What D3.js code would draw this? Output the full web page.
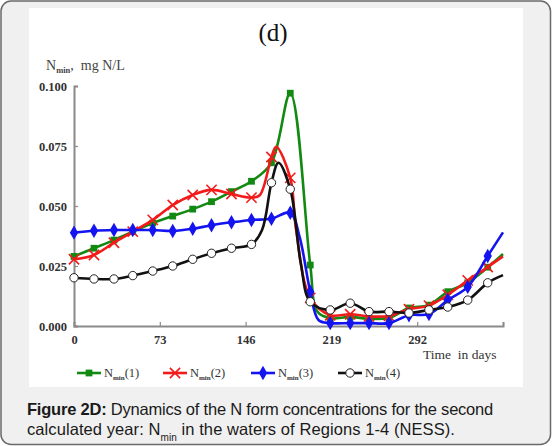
<!DOCTYPE html>
<html lang="en">
<head>
<meta charset="UTF-8">
<title>Figure 2D</title>
<script src="https://d3js.org/d3.v7.min.js"></script>
<style>
  html, body { margin: 0; padding: 0; background: #fff; }
  svg { display: block; }
</style>
</head>
<body>
<div id="chart-container"></div>
<script>
// marker days (every ~16.75 days) and values
const days = [0, 17, 34, 50, 67, 84, 101, 117, 134, 151, 168, 184, 201, 218, 235, 251, 268, 285, 302, 318, 335, 352];

const n1 = [0.0290, 0.0324, 0.0358, 0.0393, 0.0429, 0.0458, 0.0487, 0.0518, 0.0560, 0.0603, 0.0680, 0.0970,
            0.0254, 0.0032, 0.0038, 0.0030, 0.0034, 0.0075, 0.0087, 0.0143, 0.0180, 0.0245];
const n2 = [0.0278, 0.0296, 0.0347, 0.0393, 0.0442, 0.0504, 0.0546, 0.0567, 0.0550, 0.0535, 0.0704, 0.0617,
            0.0117, 0.0045, 0.0049, 0.0040, 0.0042, 0.0070, 0.0085, 0.0130, 0.0190, 0.0246];
const n3 = [0.0389, 0.0397, 0.0400, 0.0400, 0.0400, 0.0396, 0.0405, 0.0420, 0.0432, 0.0442, 0.0447, 0.0472,
            0.0143, 0.0012, 0.0012, 0.0012, 0.0012, 0.0045, 0.0050, 0.0108, 0.0163, 0.0292];
const n4 = [0.0201, 0.0196, 0.0196, 0.0210, 0.0229, 0.0250, 0.0278, 0.0303, 0.0324, 0.0340, 0.0597, 0.0570,
            0.0101, 0.0067, 0.0095, 0.0060, 0.0060, 0.0054, 0.0067, 0.0079, 0.0108, 0.0180];

// extra line points between markers (no marker drawn), [day, value]
const n1Extra = [[207, 0.0060], [365, 0.0300]];
const n2Extra = [[158, 0.0545], [172, 0.0747], [189, 0.0400], [365, 0.0290]];
const n3Extra = [[192, 0.0370], [208, 0.0025], [365, 0.0390]];
const n4Extra = [[160, 0.0400], [174, 0.0680], [193, 0.0260], [365, 0.0212]];

const seriesNames = ['(1)', '(2)', '(3)', '(4)'];
const yTicks = [0, 0.025, 0.05, 0.075, 0.1];
const xTicks = [0, 73, 146, 219, 292, 365];
const xTickLabels = ['0', '73', '146', '219', '292', ''];

const width = 552, height = 446;
const serif = '"Liberation Serif", "Times New Roman", serif';
const sans = '"Liberation Sans", Arial, sans-serif';

const svg = d3.select('#chart-container').append('svg')
    .attr('width', width)
    .attr('height', height);

// card + white picture area
svg.append('rect')
    .attr('x', 1).attr('y', 1).attr('width', width - 2.5).attr('height', height - 2.5)
    .attr('rx', 10).attr('fill', '#f0f0f0').attr('stroke', '#6a6a6a').attr('stroke-width', 1.5);
svg.append('rect')
    .attr('x', 29).attr('y', 8).attr('width', 494).attr('height', 379)
    .attr('fill', '#fff');

const xScale = d3.scaleLinear().domain([0, 365]).range([74, 503]);
const yScale = d3.scaleLinear().domain([0, 0.1]).range([326, 86]);

// title
svg.append('text')
    .attr('x', 273).attr('y', 41)
    .attr('text-anchor', 'middle')
    .style('font-family', serif).style('font-size', '25px').attr('fill', '#111')
    .text('(d)');

// y axis label
const yLab = svg.append('text')
    .attr('x', 46).attr('y', 70)
    .attr('xml:space', 'preserve')
    .style('font-family', serif).style('font-size', '14px').attr('fill', '#444');
yLab.append('tspan').text('N');
yLab.append('tspan').attr('dy', 3).style('font-size', '8.5px').style('font-weight', 'bold').text('min');
yLab.append('tspan').attr('dy', -3).text(',  mg N/L');

// axes
const yAxis = svg.append('g')
    .attr('transform', `translate(${xScale(0)},0)`)
    .call(d3.axisLeft(yScale).tickValues(yTicks).tickFormat(d3.format('.3f')).tickSize(-4).tickPadding(7));
const xAxis = svg.append('g')
    .attr('transform', `translate(0,${yScale(0)})`)
    .call(d3.axisBottom(xScale).tickValues(xTicks).tickFormat((d, i) => xTickLabels[i]).tickSize(-4).tickPadding(9));

[yAxis, xAxis].forEach(ax => {
    ax.select('.domain').attr('stroke', '#8a8a8a').attr('stroke-width', 2);
    ax.selectAll('.tick line').attr('stroke', '#8a8a8a').attr('stroke-width', 1.2);
    ax.selectAll('.tick text')
        .style('font-family', serif).style('font-size', '12.5px').style('font-weight', 'bold')
        .attr('fill', '#333');
});
yAxis.selectAll('.tick text').attr('dy', '0.35em');

svg.append('text')
    .attr('x', 423).attr('y', 359)
    .style('font-family', serif).style('font-size', '13.5px').attr('fill', '#333')
    .attr('xml:space', 'preserve')
    .text('Time  in days');

// series
const series = [
    { vals: n1, extra: n1Extra, color: '#128a12', marker: 'square' },
    { vals: n2, extra: n2Extra, color: '#f21a1a', marker: 'times' },
    { vals: n3, extra: n3Extra, color: '#1414f0', marker: 'diamond' },
    { vals: n4, extra: n4Extra, color: '#111111', marker: 'circle' }
];

const line = d3.line()
    .x(d => xScale(d[0]))
    .y(d => yScale(d[1]))
    .curve(d3.curveCatmullRom.alpha(0.5));

function drawMarker(g, type, color, cx, cy) {
    if (type === 'square') {
        g.append('path').attr('transform', `translate(${cx},${cy})`)
            .attr('d', d3.symbol(d3.symbolSquare, 46)()).attr('fill', color);
    } else if (type === 'diamond') {
        g.append('path').attr('transform', `translate(${cx},${cy})`)
            .attr('d', d3.symbol(d3.symbolDiamond, 60)()).attr('fill', color);
    } else if (type === 'times') {
        g.append('path').attr('transform', `translate(${cx},${cy})`)
            .attr('d', d3.symbol(d3.symbolTimes, 70)()).attr('fill', 'none')
            .attr('stroke', color).attr('stroke-width', 1.6);
    } else {
        g.append('circle').attr('cx', cx).attr('cy', cy).attr('r', 4.2)
            .attr('fill', '#fff').attr('stroke', '#222').attr('stroke-width', 1);
    }
}

series.forEach(s => {
    const pts = days.map((d, i) => [d, s.vals[i]]).concat(s.extra).sort((a, b) => a[0] - b[0]);
    svg.append('path')
        .attr('d', line(pts))
        .attr('fill', 'none')
        .attr('stroke', s.color)
        .attr('stroke-width', 2.6)
        .attr('stroke-linejoin', 'round');
    const g = svg.append('g');
    days.forEach((d, i) => drawMarker(g, s.marker, s.color, xScale(d), yScale(s.vals[i])));
});

// legend
const legendX = [77, 163, 251, 338];
series.forEach((s, i) => {
    const x0 = legendX[i], y0 = 373;
    svg.append('line')
        .attr('x1', x0).attr('x2', x0 + 24).attr('y1', y0).attr('y2', y0)
        .attr('stroke', s.color).attr('stroke-width', 2.6);
    drawMarker(svg.append('g'), s.marker, s.color, x0 + 12, y0);
    const t = svg.append('text')
        .attr('x', x0 + 27).attr('y', y0 + 4)
        .style('font-family', serif).style('font-size', '12.5px').attr('fill', '#333');
    t.append('tspan').text('N');
    t.append('tspan').attr('dy', 2.5).style('font-size', '7px').style('font-weight', 'bold').text('min');
    t.append('tspan').attr('dy', -2.5).text(seriesNames[i]);
});

// caption
function fitText(sel, target) {
    const w = sel.node().getComputedTextLength();
    const n = sel.text().length;
    sel.style('letter-spacing', ((target - w) / n) + 'px');
}
const cap1 = svg.append('text')
    .attr('x', 27).attr('y', 415)
    .style('font-family', sans).style('font-size', '16.5px').attr('fill', '#1a1a1a');
cap1.append('tspan').style('font-weight', 'bold').text('Figure 2D:');
cap1.append('tspan').text(' Dynamics of the N form concentrations for the second');
fitText(cap1, 466);

const cap2 = svg.append('text')
    .attr('x', 27).attr('y', 435)
    .style('font-family', sans).style('font-size', '16.5px').attr('fill', '#1a1a1a');
cap2.append('tspan').text('calculated year: N');
cap2.append('tspan').attr('dy', 6).style('font-size', '10px').text('min');
cap2.append('tspan').attr('dy', -6).text(' in the waters of Regions 1-4 (NESS).');
fitText(cap2, 428);
</script>
</body>
</html>
